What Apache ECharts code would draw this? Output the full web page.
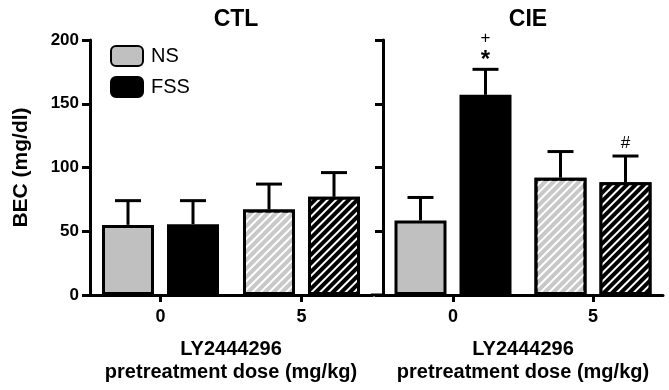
<!DOCTYPE html>
<html>
<head>
<meta charset="utf-8">
<script src="https://cdn.jsdelivr.net/npm/echarts@6/dist/echarts.min.js"></script>
<style>html,body{margin:0;padding:0;background:#fff;}#c{width:669px;height:390px;}</style>
</head>
<body>
<div id="c"></div>
<script>
// ---- data ----
const doses = ['0', '5'];
const panelTitles = ['CTL', 'CIE'];
const yTicks = [0, 50, 100, 150, 200];
const ctlNS = [55, 67];
const ctlNSsem = [19, 20];
const ctlFSS = [55.5, 77];
const ctlFSSsem = [18.5, 19];
const cieNS = [58.5, 92];
const cieNSsem = [18, 20.5];
const cieFSS = [157, 88.5];
const cieFSSsem = [20, 20.5];
const cieFSSmarks = [['*', '+'], ['#']];

const FONT = 'Arial, "Liberation Sans", Helvetica, sans-serif';
const grayNS = '#c0c0c0';
const grayHatch = '#c8c8c8';

function hatch() {
  return { symbol: 'rect', symbolSize: 1, dashArrayX: [1, 0], dashArrayY: [2, 4], rotation: -Math.PI / 4, color: '#ffffff' };
}
function barData(vals, baseColor, hatchColor) {
  return vals.map((v, i) => i === 0 ? { value: v } : { value: v, itemStyle: { color: hatchColor, decal: hatch() } });
}
function errSeries(gi, means, sems, side, marks) {
  return {
    type: 'custom', xAxisIndex: gi, yAxisIndex: gi, z: 5, silent: true,
    data: means.map((m, i) => [i, m, sems[i]]),
    renderItem: function (params, api) {
      const i = api.value(0), m = api.value(1), s = api.value(2);
      const base = api.coord([i, m]);
      const top = api.coord([i, m + s]);
      const x = base[0] + side * 32.5;
      const children = [
        { type: 'line', shape: { x1: x, y1: base[1], x2: x, y2: top[1] }, style: { stroke: '#000', lineWidth: 3 } },
        { type: 'line', shape: { x1: x - 13, y1: top[1], x2: x + 13, y2: top[1] }, style: { stroke: '#000', lineWidth: 3 } }
      ];
      if (marks && marks[params.dataIndex]) {
        const mk = marks[params.dataIndex];
        mk.forEach((t, k) => {
          const big = t === '*';
          children.push({ type: 'text', x: x, y: top[1] - (k === 0 ? 13 : 31) + (big ? 4 : 0),
            style: { text: t, fill: '#000', font: (big ? 'bold 24px ' : '17px ') + FONT, align: 'center', verticalAlign: 'middle' } });
        });
      }
      return { type: 'group', children: children };
    }
  };
}

const grids = [
  { left: 90, top: 40, width: 282, height: 255 },
  { left: 383, top: 40, width: 280, height: 255 }
];
const axisLine = { show: true, lineStyle: { color: '#000', width: 3 } };

const option = {
  animation: false,
  backgroundColor: '#fff',
  title: panelTitles.map((t, i) => ({
    text: t, left: grids[i].left + grids[i].width / 2, top: 3, textAlign: 'center',
    textStyle: { fontFamily: FONT, fontWeight: 'bold', fontSize: 23, color: '#000' }
  })),
  legend: {
    data: ['NS', 'FSS'], orient: 'vertical', left: 105, top: 40, itemWidth: 32, itemHeight: 20, itemGap: 9,
    textStyle: { fontFamily: FONT, fontSize: 20, color: '#000', padding: [0, 0, 0, 3] }
  },
  grid: grids,
  xAxis: grids.map((g, i) => ({
    type: 'category', gridIndex: i, data: doses,
    axisLine: axisLine,
    axisTick: { show: true, alignWithLabel: true, length: 7, lineStyle: { color: '#000', width: 3 } },
    axisLabel: { fontFamily: FONT, fontWeight: 'bold', fontSize: 18, color: '#000', margin: 13 },
    name: 'LY2444296\npretreatment dose (mg/kg)', nameLocation: 'middle', nameGap: 43,
    nameTextStyle: { fontFamily: FONT, fontWeight: 'bold', fontSize: 20, color: '#000', lineHeight: 23 }
  })),
  yAxis: grids.map((g, i) => ({
    type: 'value', gridIndex: i, min: yTicks[0], max: yTicks[yTicks.length - 1], interval: yTicks[1] - yTicks[0],
    axisLine: axisLine,
    axisTick: { show: true, length: 8, lineStyle: { color: '#000', width: 3 } },
    splitLine: { show: false },
    axisLabel: { show: i === 0, fontFamily: FONT, fontWeight: 'bold', fontSize: 17, color: '#000', margin: 11 },
    name: i === 0 ? 'BEC (mg/dl)' : '', nameLocation: 'middle', nameGap: 58,
    nameTextStyle: { fontFamily: FONT, fontWeight: 'bold', fontSize: 21, color: '#000' }
  })),
  series: [
    { name: 'NS', type: 'bar', xAxisIndex: 0, yAxisIndex: 0, barWidth: 52, barGap: '25%',
      itemStyle: { color: grayNS, borderColor: '#000', borderWidth: 3 }, data: barData(ctlNS, grayNS, grayHatch) },
    { name: 'FSS', type: 'bar', xAxisIndex: 0, yAxisIndex: 0, barWidth: 52, barGap: '25%',
      itemStyle: { color: '#000', borderColor: '#000', borderWidth: 3 }, data: barData(ctlFSS, '#000', '#000') },
    { name: 'NS', type: 'bar', xAxisIndex: 1, yAxisIndex: 1, barWidth: 52, barGap: '25%',
      itemStyle: { color: grayNS, borderColor: '#000', borderWidth: 3 }, data: barData(cieNS, grayNS, grayHatch) },
    { name: 'FSS', type: 'bar', xAxisIndex: 1, yAxisIndex: 1, barWidth: 52, barGap: '25%',
      itemStyle: { color: '#000', borderColor: '#000', borderWidth: 3 }, data: barData(cieFSS, '#000', '#000') },
    errSeries(0, ctlNS, ctlNSsem, -1),
    errSeries(0, ctlFSS, ctlFSSsem, 1),
    errSeries(1, cieNS, cieNSsem, -1),
    errSeries(1, cieFSS, cieFSSsem, 1, cieFSSmarks)
  ],
  graphic: [
    { type: 'line', shape: { x1: 371, y1: 295, x2: 384, y2: 295 }, style: { stroke: '#000', lineWidth: 3 }, z: 10 }
  ]
};

const chart = echarts.init(document.getElementById('c'), null, { renderer: 'canvas' });
chart.setOption(option);
</script>
</body>
</html>
